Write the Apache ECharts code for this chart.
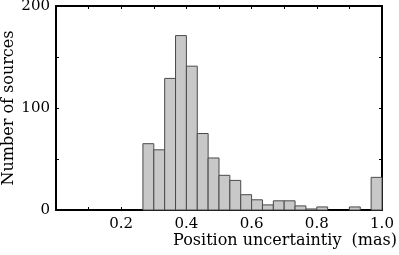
<!DOCTYPE html>
<html><head><meta charset="utf-8">
<script src="https://cdn.jsdelivr.net/npm/echarts@6/dist/echarts.min.js"></script>
<style>html,body{margin:0;padding:0;background:#fff}#c{width:399px;height:255px}</style>
</head><body><div id="c"></div>
<script>
const binStarts = [0,1,2,3,4,5,6,7,8,9,10,11,12,13,14,15,16,17,18,19,20,21,22,23,24,25,26,27,28,29];
const binWidth30 = 1; // bins are k/30 .. (k+1)/30
const counts = [0,0,0,0,0,0,0,0,65,59,129,171,141,75,51,34,29,15,10,5,9,9,4,1,3,0,0,3,0,32];
const xLabels = ['0.2','0.4','0.6','0.8','1.0'];
const yLabels = ['0','100','200'];

const data = binStarts.map((k,i)=>[k/30,(k+binWidth30)/30,counts[i]]);
const font = 'DejaVu Serif';
const chart = echarts.init(document.getElementById('c'), null, {renderer:'canvas'});
const axisLine = {show:true, onZero:false, lineStyle:{color:'#000', width:2}};
chart.setOption({
  animation:false,
  grid:{left:56, right:17, top:6, bottom:45, containLabel:false, outerBoundsMode:'none'},
  xAxis:[{
    type:'value', min:0, max:1, interval:0.1, position:'bottom',
    axisLine, splitLine:{show:false},
    axisTick:{inside:true, length:3, lineStyle:{color:'#000'}},
    axisLabel:{color:'#000', fontFamily:font, fontSize:15, margin:7,
      formatter:v=>{const s=v.toFixed(1); return xLabels.includes(s)?s:'';}}
  },{
    type:'value', min:0, max:1, interval:0.1, position:'top',
    axisLine, splitLine:{show:false},
    axisTick:{inside:true, length:3, lineStyle:{color:'#000'}},
    axisLabel:{show:false}
  }],
  yAxis:[{
    type:'value', min:0, max:200, interval:50, position:'left',
    axisLine, splitLine:{show:false},
    axisTick:{inside:true, length:3, lineStyle:{color:'#000'}},
    axisLabel:{color:'#000', fontFamily:font, fontSize:15, margin:6,
      formatter:v=>yLabels.includes(String(v))?String(v):''},
    name:'Number of sources', nameLocation:'middle', nameGap:39, nameMoveOverlap:false,
    nameTextStyle:{color:'#000', fontFamily:font, fontSize:16}
  },{
    type:'value', min:0, max:200, interval:50, position:'right',
    axisLine, splitLine:{show:false},
    axisTick:{inside:true, length:3, lineStyle:{color:'#000'}},
    axisLabel:{show:false}
  }],
  graphic:[{type:'text', right:2, top:233,
    style:{text:'Position uncertaintiy  (mas)', fill:'#000', font:'16px "DejaVu Serif"'}}],
  series:[{
    type:'custom',
    data:data,
    encode:{x:[0,1], y:2},
    renderItem:(params, api)=>{
      const v = api.value(2);
      if(!v) return null;
      const p0 = api.coord([api.value(0), 0]);
      const p1 = api.coord([api.value(1), v]);
      return {type:'rect', shape:{x:p0[0], y:p1[1], width:p1[0]-p0[0], height:p0[1]-p1[1]},
        style:{fill:'#c8c8c8', stroke:'#4a4a4a', lineWidth:1}};
    }
  }]
});
</script></body></html>
